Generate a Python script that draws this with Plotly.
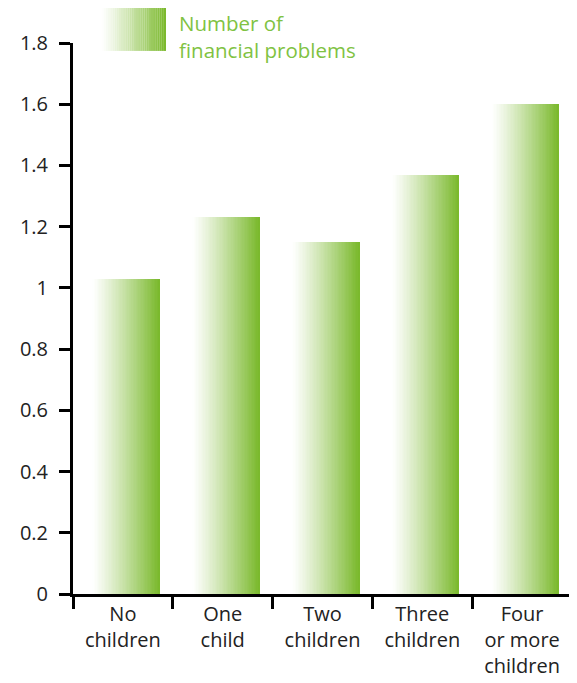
import plotly.graph_objects as go

categories = ["No<br>children", "One<br>child", "Two<br>children", "Three<br>children", "Four<br>or more<br>children"]
values = [1.03, 1.23, 1.15, 1.37, 1.60]
y_ticks = [0, 0.2, 0.4, 0.6, 0.8, 1.0, 1.2, 1.4, 1.6, 1.8]
y_tick_labels = ["0", "0.2", "0.4", "0.6", "0.8", "1", "1.2", "1.4", "1.6", "1.8"]
legend_label = "Number of<br>financial problems"

GREEN = (121, 184, 42)
WHITE = (255, 255, 255)
N = 48
BAR_W = 0.67
BAR_OFF = -0.30
FONT = "Open Sans"


def mix(t):
    t = t ** 1.15
    r = [round(WHITE[i] + (GREEN[i] - WHITE[i]) * t) for i in range(3)]
    return f"rgb({r[0]},{r[1]},{r[2]})"


fig = go.Figure()
sw = BAR_W / N
for k in range(N):
    t = (k + 0.5) / N
    fig.add_trace(go.Bar(
        x=categories, y=values,
        offset=BAR_OFF + k * sw, width=sw * 1.05,
        marker=dict(color=mix(t), line=dict(width=0)),
        showlegend=False, hoverinfo="skip",
    ))

# plot area in figure pixels (page has an 8px body margin)
PX0, PX1, PY0, PY1 = 59, 564, 35, 591
W, H = 577, 683


def px(x):
    return (x - PX0) / (PX1 - PX0)


def py(y):
    return (PY1 - y) / (PY1 - PY0)


# legend swatch (gradient made of thin rectangles), figure pixel coords
x0, x1 = px(88), px(153)
y0, y1 = py(43), py(-1)
M = 30
for k in range(M):
    t = (k + 0.5) / M
    fig.add_shape(type="rect", xref="paper", yref="paper",
                  x0=x0 + (x1 - x0) * k / M, x1=x0 + (x1 - x0) * (k + 1.05) / M,
                  y0=y0, y1=y1, line=dict(width=0), fillcolor=mix(t), layer="above")

fig.add_annotation(text=legend_label, xref="paper", yref="paper",
                   x=px(165), y=py(0), xanchor="left", yanchor="top",
                   showarrow=False, align="left", borderpad=0,
                   font=dict(family=FONT, size=20.5, color="#80c242"))

fig.update_layout(
    width=W, height=H,
    margin=dict(l=PX0, r=W - PX1, t=PY0, b=H - PY1),
    paper_bgcolor="white", plot_bgcolor="white",
    barmode="overlay", bargap=0,
    font=dict(family=FONT, size=20, color="#222222"),
    showlegend=False,
)
fig.update_xaxes(
    type="category", tickson="boundaries", ticks="outside", ticklen=12, tickwidth=2.5,
    tickcolor="black", showline=True, linecolor="black", linewidth=3,
    showgrid=False, zeroline=False, range=[-0.5, 4.5],
    tickfont=dict(family=FONT, size=20, color="#222222"),
)
fig.update_yaxes(
    range=[0, 1.8], tickvals=y_ticks, ticktext=y_tick_labels,
    ticks="outside", ticklen=11, tickwidth=2.5, tickcolor="black",
    showline=True, linecolor="black", linewidth=3,
    showgrid=False, zeroline=False, ticklabelstandoff=7,
    tickfont=dict(family=FONT, size=20, color="#222222"),
)

fig.write_html("out.html")
